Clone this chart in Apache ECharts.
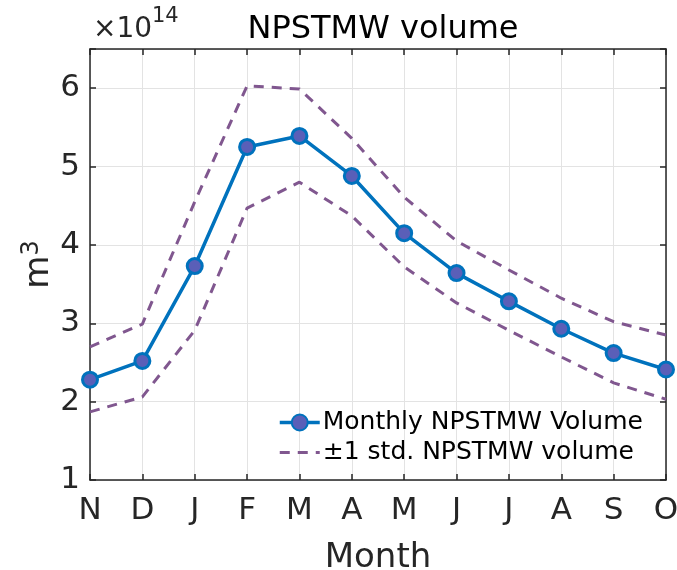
<!DOCTYPE html>
<html>
<head>
<meta charset="utf-8">
<script src="https://cdn.jsdelivr.net/npm/echarts@6/dist/echarts.min.js"></script>
<style>
  html, body { margin: 0; padding: 0; background: #ffffff; }
  #chart { width: 677px; height: 570px; }
</style>
</head>
<body>
<div id="chart"></div>
<script>
// Months from November through October, with single-letter tick labels
const months = ['Nov', 'Dec', 'Jan', 'Feb', 'Mar', 'Apr', 'May', 'Jun', 'Jul', 'Aug', 'Sep', 'Oct'];
const monthTicks = ['N', 'D', 'J', 'F', 'M', 'A', 'M', 'J', 'J', 'A', 'S', 'O'];

// NPSTMW volume in units of 1e14 m^3
const meanVolume = [2.28, 2.52, 3.73, 5.25, 5.39, 4.88, 4.15, 3.64, 3.28, 2.93, 2.62, 2.41];
const upperStd   = [2.70, 2.99, 4.55, 6.03, 5.99, 5.36, 4.61, 4.05, 3.68, 3.32, 3.02, 2.85];
const lowerStd   = [1.87, 2.06, 2.91, 4.47, 4.80, 4.37, 3.72, 3.26, 2.91, 2.57, 2.24, 2.03];

const yTicks = [1, 2, 3, 4, 5, 6];

const FONT = 'DejaVu Sans';
const AXIS_COLOR = '#262626';
const BLUE = '#0072BD';
const PURPLE = '#80578f';

const chart = echarts.init(document.getElementById('chart'), null, { renderer: 'canvas' });

const tickLabel = (v, i) => monthTicks[i];

const option = {
  backgroundColor: '#ffffff',
  animation: false,
  textStyle: { fontFamily: FONT },
  title: {
    text: 'NPSTMW volume',
    left: 378,
    top: 9,
    textAlign: 'center',
    textStyle: { fontFamily: FONT, fontSize: 32, fontWeight: 'normal', color: '#000' }
  },
  graphic: [{
    type: 'text',
    left: 93,
    top: 16,
    style: { text: '×10', fontFamily: FONT, fontSize: 28, fill: AXIS_COLOR }
  }, {
    type: 'text',
    left: 152,
    top: 6,
    style: { text: '14', fontFamily: FONT, fontSize: 21, fill: AXIS_COLOR }
  }],
  grid: { left: 90, right: 11, top: 49, bottom: 90, containLabel: false, outerBoundsMode: 'none' },
  legend: {
    orient: 'vertical',
    left: 278,
    top: 410,
    padding: 0,
    itemWidth: 40,
    itemHeight: 20,
    itemGap: 5,
    data: [
      { name: 'Monthly NPSTMW Volume', lineStyle: { width: 3.5 } },
      { name: '±1 std. NPSTMW volume', itemStyle: { opacity: 0 }, lineStyle: { width: 3, opacity: 1 } }
    ],
    textStyle: { fontFamily: FONT, fontSize: 25, color: '#000', padding: [0, 0, 0, -2] }
  },
  xAxis: [{
    type: 'category',
    data: months,
    boundaryGap: false,
    name: 'Month',
    nameLocation: 'middle',
    nameGap: 61,
    nameTextStyle: { fontFamily: FONT, fontSize: 34, color: AXIS_COLOR },
    axisLine: { lineStyle: { color: AXIS_COLOR, width: 1.5 } },
    axisTick: { inside: true, length: 6, alignWithLabel: true, lineStyle: { color: AXIS_COLOR, width: 1.5 } },
    axisLabel: { formatter: tickLabel, fontFamily: FONT, fontSize: 31, color: AXIS_COLOR, margin: 15, interval: 0 },
    splitLine: { show: true, lineStyle: { color: '#e3e3e3', width: 1 } }
  }, {
    type: 'category',
    data: months,
    boundaryGap: false,
    position: 'top',
    axisLine: { lineStyle: { color: AXIS_COLOR, width: 1.5 } },
    axisTick: { inside: true, length: 6, lineStyle: { color: AXIS_COLOR, width: 1.5 } },
    axisLabel: { show: false },
    splitLine: { show: false }
  }],
  yAxis: [{
    type: 'value',
    min: 1,
    max: 6.5,
    interval: 1,
    name: '{m|m}{p|3}',
    nameLocation: 'middle',
    nameGap: 34,
    nameMoveOverlap: false,
    nameRotate: 90,
    nameTextStyle: {
      fontFamily: FONT, fontSize: 34, color: AXIS_COLOR,
      rich: {
        m: { fontFamily: FONT, fontSize: 34, color: AXIS_COLOR, verticalAlign: 'bottom' },
        p: { fontFamily: FONT, fontSize: 24, color: AXIS_COLOR, verticalAlign: 'top', padding: [0, 0, 12, 0] }
      }
    },
    axisLine: { show: true, lineStyle: { color: AXIS_COLOR, width: 1.5 } },
    axisTick: { show: true, inside: true, length: 6, lineStyle: { color: AXIS_COLOR, width: 1.5 } },
    axisLabel: {
      formatter: v => (yTicks.indexOf(v) >= 0 ? String(v) : ''),
      fontFamily: FONT, fontSize: 31, color: AXIS_COLOR, margin: 10
    },
    splitLine: { show: true, lineStyle: { color: '#e3e3e3', width: 1 } }
  }, {
    type: 'value',
    min: 1,
    max: 6.5,
    interval: 1,
    position: 'right',
    axisLine: { show: true, lineStyle: { color: AXIS_COLOR, width: 1.5 } },
    axisTick: { show: true, inside: true, length: 6, lineStyle: { color: AXIS_COLOR, width: 1.5 } },
    axisLabel: { show: false },
    splitLine: { show: false }
  }],
  series: [{
    name: '±1 std. NPSTMW volume',
    type: 'line',
    data: upperStd,
    symbol: 'none',
    lineStyle: { color: PURPLE, width: 3, type: [10, 8] },
    itemStyle: { color: PURPLE },
    z: 2
  }, {
    name: '±1 std. NPSTMW volume',
    type: 'line',
    data: lowerStd,
    symbol: 'none',
    lineStyle: { color: PURPLE, width: 3, type: [10, 8] },
    itemStyle: { color: PURPLE },
    z: 2
  }, {
    name: 'Monthly NPSTMW Volume',
    type: 'line',
    data: meanVolume,
    symbol: 'circle',
    symbolSize: 15,
    lineStyle: { color: BLUE, width: 3.5 },
    itemStyle: { color: '#5a5fb8', borderColor: BLUE, borderWidth: 3 },
    z: 3
  }]
};

chart.setOption(option);
</script>
</body>
</html>
